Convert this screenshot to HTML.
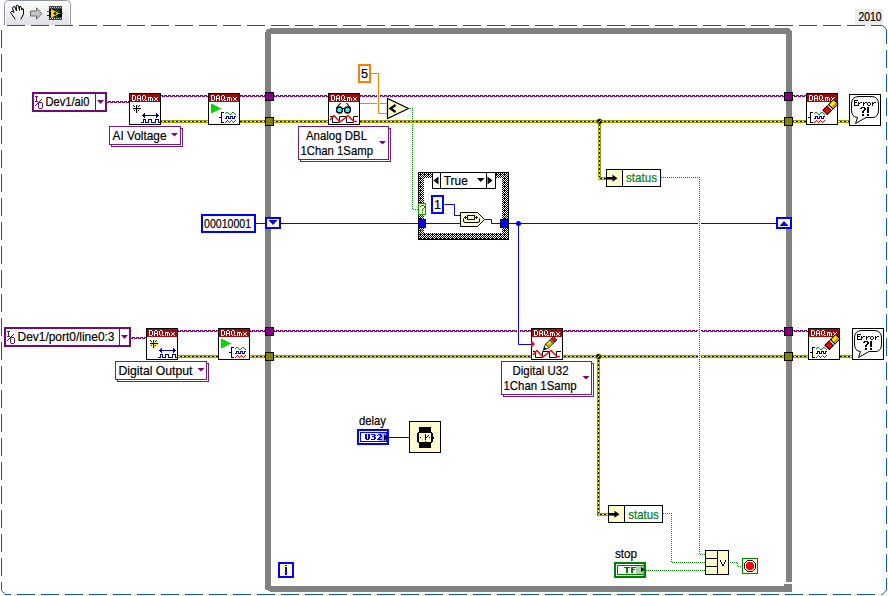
<!DOCTYPE html>
<html><head><meta charset="utf-8"><style>html,body{margin:0;padding:0;background:#fff;overflow:hidden}svg{display:block}</style></head>
<body><svg width="888" height="596" viewBox="0 0 888 596">
<rect width="888" height="596" fill="#fff"/>
<defs><linearGradient id="tabg" x1="0" y1="0" x2="0" y2="1"><stop offset="0" stop-color="#ffffff"/><stop offset="1" stop-color="#dfe0e5"/></linearGradient><pattern id="taskA" x="0" y="0" width="4" height="1" patternUnits="userSpaceOnUse"><rect x="0" y="0" width="3" height="1" fill="#800080"/></pattern><pattern id="taskB" x="0" y="0" width="4" height="1" patternUnits="userSpaceOnUse"><rect x="0" y="0" width="1" height="1" fill="#800080"/><rect x="2" y="0" width="2" height="1" fill="#800080"/></pattern><pattern id="errh" x="0" y="0" width="4" height="1" patternUnits="userSpaceOnUse"><rect x="0" y="0" width="2" height="1" fill="#000"/><rect x="2" y="0" width="2" height="1" fill="#ffff00"/></pattern><pattern id="errv" x="0" y="0" width="1" height="4" patternUnits="userSpaceOnUse"><rect x="0" y="0" width="1" height="2" fill="#000"/><rect x="0" y="2" width="1" height="2" fill="#ffff00"/></pattern><pattern id="chk" x="419" y="173" width="4" height="4" patternUnits="userSpaceOnUse"><rect width="4" height="4" fill="#fff"/><path d="M1,0h1v1h-1zM0,1h1v1h-1zM2,1h1v1h-1zM1,2h1v1h-1zM3,0h1v1h-1zM3,2h1v1h-1zM0,3h1v1h-1zM2,3h1v1h-1zM1,1h1v1h-1z" fill="#000"/></pattern></defs>
<path d="M4.5,25 L4.5,4.5 Q4.5,0.5 8.5,0.5 L66.5,0.5 Q70.5,0.5 70.5,4.5 L70.5,25" fill="url(#tabg)" stroke="#8e94a6" stroke-width="1"/>
<path d="M5.5,25 L5.5,5 Q5.5,1.5 9,1.5 L66,1.5 Q69.5,1.5 69.5,5 L69.5,25" fill="none" stroke="#ffffff" stroke-width="1" opacity="0.8"/>
<path d="M15,19 L10.5,12.5 L12,11 L14,12.5 L12.5,8 L13.5,6.5 L15,7 L16.5,11 L16.2,5.5 L17.5,5 L18.5,6 L19.5,10.5 L19.5,6.5 L20.8,6.5 L22,10 L22.5,8.5 L23.5,9 L23.5,14 L21,19" fill="none" stroke="#000" stroke-width="1" stroke-linejoin="round" stroke-linecap="round"/>
<path d="M30.5,11 L36.5,11 L36.5,7.8 L41.8,13.5 L36.5,19.2 L36.5,16 L30.5,16 Z" fill="#c4c4c4" stroke="#6a6a6a" stroke-width="1"/>
<rect x="49" y="6" width="13" height="14" fill="#404040"/>
<rect x="49" y="9" width="13" height="8" fill="#000"/>
<path d="M50,7h1v1h-1zM52,7h1v1h-1zM54,7h1v1h-1zM56,7h1v1h-1zM58,7h1v1h-1zM60,7h1v1h-1zM50,18h1v1h-1zM52,18h1v1h-1zM54,18h1v1h-1zM56,18h1v1h-1zM58,18h1v1h-1zM60,18h1v1h-1z" fill="#c8c8c8"/>
<path d="M55,9 q2,1 1,3 M57,9 q3,2 2,5 M56,16 l2,1" fill="none" stroke="#00a000" stroke-width="0.8"/>
<path d="M51,9 L59.5,13.5 L51,18 Z" fill="#f8d800"/>
<path d="M53.5,13.5 h3 M55,12 v3" stroke="#000" stroke-width="1.2"/>
<line x1="47" y1="11.5" x2="51" y2="11.5" stroke="#ff0000" stroke-width="1"/>
<line x1="47" y1="15.5" x2="51" y2="15.5" stroke="#0000ff" stroke-width="1"/>
<line x1="59" y1="13.5" x2="63" y2="13.5" stroke="#ff0000" stroke-width="1"/>
<rect x="855" y="9" width="28" height="16" fill="#ebebeb" />
<text x="858.5" y="21" font-size="12" fill="#000" stroke="#000" stroke-width="0.2" font-family="Liberation Sans, sans-serif" textLength="23" lengthAdjust="spacingAndGlyphs" >2010</text>
<line x1="7" y1="25.5" x2="871" y2="25.5" stroke="#0a5ea8" stroke-width="1" stroke-dasharray="18 6"/>
<path d="M871,25.5 L882.5,25.5 L886.5,29.5 L886.5,44" fill="none" stroke="#0a5ea8" stroke-width="1"/>
<line x1="886.5" y1="50" x2="886.5" y2="578" stroke="#0a5ea8" stroke-width="1" stroke-dasharray="18 6"/>
<line x1="1.5" y1="30" x2="1.5" y2="582" stroke="#0a5ea8" stroke-width="1" stroke-dasharray="18 6"/>
<path d="M1.5,582 L1.5,590.5 L5,594.5 L11,594.5" fill="none" stroke="#0a5ea8" stroke-width="1"/>
<line x1="17" y1="594.5" x2="875" y2="594.5" stroke="#0a5ea8" stroke-width="1" stroke-dasharray="18 6"/>
<path d="M886.5,578 L886.5,590 L882.5,594.5 L881,594.5" fill="none" stroke="#0a5ea8" stroke-width="1"/>
<path d="M270,28 L789,28 L789,29 L790,29 L790,30 L791,30 L791,31 L792,31 L792,582 L786,582 L786,34 L271,34 L271,586 L786,586 L784,586 L784,584 L792,584 L792,592 L270,592 L270,591 L268,591 L268,590 L266,590 L266,589 L265,589 L265,32 L266,32 L266,30 L267,30 L267,29 L270,29 Z" fill="#808080"/>
<rect x="33.0" y="93.0" width="73" height="18" fill="#fff" stroke="#730a7a" stroke-width="2" />
<rect x="95" y="94" width="1" height="16" fill="#730a7a"/>
<path d="M35,96h3v1h-3zM36,97h1v1h-1zM36,98h1v1h-1zM36,99h1v1h-1zM41,99h1v1h-1zM36,100h1v1h-1zM40,100h1v1h-1zM35,101h3v1h-3zM39,101h1v1h-1zM38,102h4v1h-4zM37,103h2v1h-2zM42,103h1v1h-1zM36,104h1v1h-1zM38,104h1v1h-1zM42,104h1v1h-1zM35,105h1v1h-1zM38,105h1v1h-1zM42,105h1v1h-1zM38,106h1v1h-1zM42,106h1v1h-1zM38,107h1v1h-1zM42,107h1v1h-1zM39,108h3v1h-3z" fill="#730a7a"/>
<text x="45.5" y="106" font-size="13" fill="#000" stroke="#000" stroke-width="0.2" font-family="Liberation Sans, sans-serif" textLength="44" lengthAdjust="spacingAndGlyphs" >Dev1/ai0</text>
<path d="M97,100 h7 l-3.5,4 Z" fill="#730a7a"/>
<rect x="107" y="101" width="22" height="1" fill="url(#taskA)"/>
<rect x="107" y="102" width="22" height="1" fill="url(#taskB)"/>
<rect x="111.5" y="128.5" width="71" height="18" fill="#fff" stroke="#7a1a82" stroke-width="1" />
<rect x="109.5" y="126.5" width="71" height="18" fill="#fff" stroke="#7a1a82" stroke-width="1" />
<text x="112.5" y="139.6" font-size="13" fill="#000" stroke="#000" stroke-width="0.2" font-family="Liberation Sans, sans-serif" textLength="54" lengthAdjust="spacingAndGlyphs" >AI Voltage</text>
<path d="M171,133 h7 l-3.5,3.5 Z" fill="#800080"/>
<rect x="129.5" y="93.5" width="31" height="31" fill="#fff" stroke="#000" stroke-width="1" />
<rect x="130" y="94" width="30" height="8" fill="#a00a0a" />
<path d="M132,95h3v1h-3zM132,96h1v1h-1zM135,96h1v1h-1zM132,97h1v1h-1zM135,97h1v1h-1zM132,98h1v1h-1zM135,98h1v1h-1zM132,99h1v1h-1zM135,99h1v1h-1zM132,100h3v1h-3z" fill="#fff"/>
<path d="M138,95h2v1h-2zM137,96h1v1h-1zM140,96h1v1h-1zM137,97h1v1h-1zM140,97h1v1h-1zM137,98h4v1h-4zM137,99h1v1h-1zM140,99h1v1h-1zM137,100h1v1h-1zM140,100h1v1h-1z" fill="#fff"/>
<path d="M143,95h2v1h-2zM142,96h1v1h-1zM145,96h1v1h-1zM142,97h1v1h-1zM145,97h1v1h-1zM142,98h1v1h-1zM145,98h1v1h-1zM142,99h1v1h-1zM144,99h1v1h-1zM143,100h1v1h-1zM145,100h2v1h-2z" fill="#fff"/>
<path d="M148,97h4v1h-4zM148,98h1v1h-1zM150,98h1v1h-1zM152,98h1v1h-1zM148,99h1v1h-1zM150,99h1v1h-1zM152,99h1v1h-1zM148,100h1v1h-1zM150,100h1v1h-1zM152,100h1v1h-1z" fill="#fff"/>
<path d="M154,97h1v1h-1zM157,97h1v1h-1zM155,98h2v1h-2zM155,99h2v1h-2zM154,100h1v1h-1zM157,100h1v1h-1z" fill="#fff"/>
<path d="M133,105h1v1h-1zM136,105h1v1h-1zM139,105h1v1h-1zM134,106h1v1h-1zM136,106h1v1h-1zM138,106h1v1h-1zM136,107h1v1h-1zM133,108h8v1h-8zM136,109h1v1h-1zM134,110h1v1h-1zM136,110h1v1h-1zM138,110h1v1h-1zM136,111h1v1h-1zM136,112h1v1h-1z" fill="#000"/>
<path d="M137,105h1v1h-1zM137,106h1v1h-1zM137,107h1v1h-1zM133,109h3v1h-3zM137,109h4v1h-4zM137,110h1v1h-1zM137,111h1v1h-1zM137,112h1v1h-1z" fill="#f0f000"/>
<path d="M144,113h1v1h-1zM156,113h1v1h-1zM143,114h2v1h-2zM156,114h2v1h-2zM142,115h17v1h-17zM143,116h2v1h-2zM156,116h2v1h-2zM144,117h1v1h-1zM156,117h1v1h-1z" fill="#0000b0"/>
<path d="M143,119h3v1h-3zM148,119h4v1h-4zM155,119h4v1h-4zM143,120h1v1h-1zM145,120h1v1h-1zM148,120h1v1h-1zM151,120h1v1h-1zM155,120h1v1h-1zM158,120h1v1h-1zM143,121h1v1h-1zM145,121h1v1h-1zM148,121h1v1h-1zM151,121h1v1h-1zM155,121h1v1h-1zM158,121h1v1h-1zM141,122h3v1h-3zM145,122h4v1h-4zM151,122h5v1h-5zM158,122h2v1h-2z" fill="#0000b0"/>
<rect x="161" y="95" width="47" height="1" fill="url(#taskA)"/>
<rect x="161" y="96" width="47" height="1" fill="url(#taskB)"/>
<rect x="161" y="120" width="47" height="3" fill="#a09c00"/>
<rect x="161" y="121" width="47" height="1" fill="url(#errh)"/>
<rect x="208.5" y="93.5" width="31" height="31" fill="#fff" stroke="#000" stroke-width="1" />
<rect x="209" y="94" width="30" height="8" fill="#a00a0a" />
<path d="M211,95h3v1h-3zM211,96h1v1h-1zM214,96h1v1h-1zM211,97h1v1h-1zM214,97h1v1h-1zM211,98h1v1h-1zM214,98h1v1h-1zM211,99h1v1h-1zM214,99h1v1h-1zM211,100h3v1h-3z" fill="#fff"/>
<path d="M217,95h2v1h-2zM216,96h1v1h-1zM219,96h1v1h-1zM216,97h1v1h-1zM219,97h1v1h-1zM216,98h4v1h-4zM216,99h1v1h-1zM219,99h1v1h-1zM216,100h1v1h-1zM219,100h1v1h-1z" fill="#fff"/>
<path d="M222,95h2v1h-2zM221,96h1v1h-1zM224,96h1v1h-1zM221,97h1v1h-1zM224,97h1v1h-1zM221,98h1v1h-1zM224,98h1v1h-1zM221,99h1v1h-1zM223,99h1v1h-1zM222,100h1v1h-1zM224,100h2v1h-2z" fill="#fff"/>
<path d="M227,97h4v1h-4zM227,98h1v1h-1zM229,98h1v1h-1zM231,98h1v1h-1zM227,99h1v1h-1zM229,99h1v1h-1zM231,99h1v1h-1zM227,100h1v1h-1zM229,100h1v1h-1zM231,100h1v1h-1z" fill="#fff"/>
<path d="M233,97h1v1h-1zM236,97h1v1h-1zM234,98h2v1h-2zM234,99h2v1h-2zM233,100h1v1h-1zM236,100h1v1h-1z" fill="#fff"/>
<path d="M211,104h2v1h-2zM211,105h4v1h-4zM211,106h6v1h-6zM211,107h8v1h-8zM211,108h10v1h-10zM211,109h8v1h-8zM211,110h6v1h-6zM211,111h4v1h-4zM211,112h2v1h-2z" fill="#00d800"/>
<path d="M221,112h3v1h-3zM221,113h1v1h-1zM221,114h1v1h-1zM221,115h1v1h-1zM221,116h1v1h-1zM219,117h3v1h-3zM221,118h1v1h-1zM221,119h1v1h-1zM221,120h1v1h-1zM221,121h1v1h-1zM221,122h3v1h-3z" fill="#000"/>
<path d="M226,112h2v1h-2zM232,112h2v1h-2zM225,113h1v1h-1zM228,113h1v1h-1zM231,113h1v1h-1zM234,113h1v1h-1zM229,114h2v1h-2zM235,114h1v1h-1z" fill="#00a000"/>
<path d="M226,116h3v1h-3zM230,116h3v1h-3zM234,116h2v1h-2zM226,117h1v1h-1zM228,117h1v1h-1zM230,117h1v1h-1zM232,117h1v1h-1zM234,117h1v1h-1zM225,118h2v1h-2zM228,118h3v1h-3zM232,118h3v1h-3z" fill="#0000b0"/>
<path d="M227,120h1v1h-1zM231,120h1v1h-1zM235,120h1v1h-1zM226,121h1v1h-1zM228,121h1v1h-1zM230,121h1v1h-1zM232,121h1v1h-1zM234,121h1v1h-1zM225,122h1v1h-1zM229,122h1v1h-1zM233,122h1v1h-1z" fill="#ff0000"/>
<rect x="240" y="95" width="25" height="1" fill="url(#taskA)"/>
<rect x="240" y="96" width="25" height="1" fill="url(#taskB)"/>
<rect x="240" y="120" width="25" height="3" fill="#a09c00"/>
<rect x="240" y="121" width="25" height="1" fill="url(#errh)"/>
<rect x="265.5" y="92.5" width="8" height="8" fill="#800080" stroke="#000" stroke-width="1" />
<rect x="265.5" y="117.5" width="8" height="8" fill="#858008" stroke="#000" stroke-width="1" />
<rect x="274" y="95" width="54" height="1" fill="url(#taskA)"/>
<rect x="274" y="96" width="54" height="1" fill="url(#taskB)"/>
<rect x="274" y="120" width="54" height="3" fill="#a09c00"/>
<rect x="274" y="121" width="54" height="1" fill="url(#errh)"/>
<rect x="328.5" y="93.5" width="31" height="31" fill="#fff" stroke="#000" stroke-width="1" />
<rect x="329" y="94" width="30" height="8" fill="#a00a0a" />
<path d="M331,95h3v1h-3zM331,96h1v1h-1zM334,96h1v1h-1zM331,97h1v1h-1zM334,97h1v1h-1zM331,98h1v1h-1zM334,98h1v1h-1zM331,99h1v1h-1zM334,99h1v1h-1zM331,100h3v1h-3z" fill="#fff"/>
<path d="M337,95h2v1h-2zM336,96h1v1h-1zM339,96h1v1h-1zM336,97h1v1h-1zM339,97h1v1h-1zM336,98h4v1h-4zM336,99h1v1h-1zM339,99h1v1h-1zM336,100h1v1h-1zM339,100h1v1h-1z" fill="#fff"/>
<path d="M342,95h2v1h-2zM341,96h1v1h-1zM344,96h1v1h-1zM341,97h1v1h-1zM344,97h1v1h-1zM341,98h1v1h-1zM344,98h1v1h-1zM341,99h1v1h-1zM343,99h1v1h-1zM342,100h1v1h-1zM344,100h2v1h-2z" fill="#fff"/>
<path d="M347,97h4v1h-4zM347,98h1v1h-1zM349,98h1v1h-1zM351,98h1v1h-1zM347,99h1v1h-1zM349,99h1v1h-1zM351,99h1v1h-1zM347,100h1v1h-1zM349,100h1v1h-1zM351,100h1v1h-1z" fill="#fff"/>
<path d="M353,97h1v1h-1zM356,97h1v1h-1zM354,98h2v1h-2zM354,99h2v1h-2zM353,100h1v1h-1zM356,100h1v1h-1z" fill="#fff"/>
<circle cx="339.5" cy="110" r="3" fill="#40e8f0" stroke="#000" stroke-width="1.3"/>
<circle cx="347.5" cy="110" r="3" fill="#40e8f0" stroke="#000" stroke-width="1.3"/>
<path d="M342,108.5 h3 M336.5,108 l4,-5 M350.5,108 l-4,-5" fill="none" stroke="#000" stroke-width="1.2"/>
<path d="M330,116.5 H332.5 V122.5 H339.5 V116.5 H346.5 V122.5 H353.5 V116.5 H358" fill="none" stroke="#000" stroke-width="1"/>
<path d="M330,120 l4,-4.5 l6,6.5 l8,-6.5 l6,6 l3,0" fill="none" stroke="#ff0000" stroke-width="1.5"/>
<rect x="300.5" y="128.5" width="90" height="33" fill="#fff" stroke="#7a1a82" stroke-width="1" />
<rect x="298.5" y="126.5" width="90" height="33" fill="#fff" stroke="#7a1a82" stroke-width="1" />
<text x="306" y="139.8" font-size="13" fill="#000" stroke="#000" stroke-width="0.2" font-family="Liberation Sans, sans-serif" textLength="61" lengthAdjust="spacingAndGlyphs" >Analog DBL</text>
<text x="300.5" y="154.7" font-size="13" fill="#000" stroke="#000" stroke-width="0.2" font-family="Liberation Sans, sans-serif" textLength="72.5" lengthAdjust="spacingAndGlyphs" >1Chan 1Samp</text>
<path d="M379,141 h7 l-3.5,3.5 Z" fill="#800080"/>
<rect x="359.0" y="65.0" width="11" height="17" fill="#fff" stroke="#ff7f00" stroke-width="2" />
<text x="361" y="78" font-size="12" fill="#000" stroke="#000" stroke-width="0.2" font-family="Liberation Sans, sans-serif" textLength="7" lengthAdjust="spacingAndGlyphs" >5</text>
<path d="M370.5,73.5 L378.5,73.5 L378.5,113.5 L387.5,113.5" fill="none" stroke="#ff7f00" stroke-width="1"/>
<rect x="360" y="103" width="17" height="1" fill="#ff7f00"/>
<rect x="380" y="103" width="7" height="1" fill="#ff7f00"/>
<path d="M387.5,98.5 L387.5,118.5 L408.5,108.5 Z" fill="#fafad2" stroke="#000" stroke-width="1.2"/>
<path d="M395.5,105 L390.5,108.5 L395.5,112" fill="none" stroke="#000" stroke-width="2.2"/>
<path d="M410,108h1v1h-1zM412,108h1v1h-1zM412,108h1v1h-1zM412,110h1v1h-1zM412,112h1v1h-1zM412,114h1v1h-1zM412,116h1v1h-1zM412,118h1v1h-1zM412,120h1v1h-1zM412,122h1v1h-1zM412,124h1v1h-1zM412,126h1v1h-1zM412,128h1v1h-1zM412,130h1v1h-1zM412,132h1v1h-1zM412,134h1v1h-1zM412,136h1v1h-1zM412,138h1v1h-1zM412,140h1v1h-1zM412,142h1v1h-1zM412,144h1v1h-1zM412,146h1v1h-1zM412,148h1v1h-1zM412,150h1v1h-1zM412,152h1v1h-1zM412,154h1v1h-1zM412,156h1v1h-1zM412,158h1v1h-1zM412,160h1v1h-1zM412,162h1v1h-1zM412,164h1v1h-1zM412,166h1v1h-1zM412,168h1v1h-1zM412,170h1v1h-1zM412,172h1v1h-1zM412,174h1v1h-1zM412,176h1v1h-1zM412,178h1v1h-1zM412,180h1v1h-1zM412,182h1v1h-1zM412,184h1v1h-1zM412,186h1v1h-1zM412,188h1v1h-1zM412,190h1v1h-1zM412,192h1v1h-1zM412,194h1v1h-1zM412,196h1v1h-1zM412,198h1v1h-1zM412,200h1v1h-1zM412,202h1v1h-1zM412,204h1v1h-1zM412,206h1v1h-1zM412,208h1v1h-1zM413,209h1v1h-1zM415,209h1v1h-1zM417,209h1v1h-1z" fill="#009000"/>
<rect x="360" y="95" width="17" height="1" fill="url(#taskA)"/>
<rect x="360" y="96" width="17" height="1" fill="url(#taskB)"/>
<rect x="380" y="95" width="404" height="1" fill="url(#taskA)"/>
<rect x="380" y="96" width="404" height="1" fill="url(#taskB)"/>
<rect x="360" y="120" width="424" height="3" fill="#a09c00"/>
<rect x="360" y="121" width="424" height="1" fill="url(#errh)"/>
<rect x="784.5" y="92.5" width="8" height="8" fill="#800080" stroke="#000" stroke-width="1" />
<rect x="784.5" y="117.5" width="8" height="8" fill="#858008" stroke="#000" stroke-width="1" />
<rect x="793" y="95" width="13" height="1" fill="url(#taskA)"/>
<rect x="793" y="96" width="13" height="1" fill="url(#taskB)"/>
<rect x="793" y="120" width="13" height="3" fill="#a09c00"/>
<rect x="793" y="121" width="13" height="1" fill="url(#errh)"/>
<rect x="806.5" y="93.5" width="31" height="31" fill="#fff" stroke="#000" stroke-width="1" />
<rect x="807" y="94" width="30" height="8" fill="#a00a0a" />
<path d="M809,95h3v1h-3zM809,96h1v1h-1zM812,96h1v1h-1zM809,97h1v1h-1zM812,97h1v1h-1zM809,98h1v1h-1zM812,98h1v1h-1zM809,99h1v1h-1zM812,99h1v1h-1zM809,100h3v1h-3z" fill="#fff"/>
<path d="M815,95h2v1h-2zM814,96h1v1h-1zM817,96h1v1h-1zM814,97h1v1h-1zM817,97h1v1h-1zM814,98h4v1h-4zM814,99h1v1h-1zM817,99h1v1h-1zM814,100h1v1h-1zM817,100h1v1h-1z" fill="#fff"/>
<path d="M820,95h2v1h-2zM819,96h1v1h-1zM822,96h1v1h-1zM819,97h1v1h-1zM822,97h1v1h-1zM819,98h1v1h-1zM822,98h1v1h-1zM819,99h1v1h-1zM821,99h1v1h-1zM820,100h1v1h-1zM822,100h2v1h-2z" fill="#fff"/>
<path d="M825,97h4v1h-4zM825,98h1v1h-1zM827,98h1v1h-1zM829,98h1v1h-1zM825,99h1v1h-1zM827,99h1v1h-1zM829,99h1v1h-1zM825,100h1v1h-1zM827,100h1v1h-1zM829,100h1v1h-1z" fill="#fff"/>
<path d="M831,97h1v1h-1zM834,97h1v1h-1zM832,98h2v1h-2zM832,99h2v1h-2zM831,100h1v1h-1zM834,100h1v1h-1z" fill="#fff"/>
<path d="M810,112h3v1h-3zM810,113h1v1h-1zM810,114h1v1h-1zM810,115h1v1h-1zM810,116h1v1h-1zM808,117h3v1h-3zM810,118h1v1h-1zM810,119h1v1h-1zM810,120h1v1h-1zM810,121h1v1h-1zM810,122h3v1h-3z" fill="#000"/>
<path d="M815,112h2v1h-2zM821,112h2v1h-2zM814,113h1v1h-1zM817,113h1v1h-1zM820,113h1v1h-1zM823,113h1v1h-1zM818,114h2v1h-2zM824,114h1v1h-1z" fill="#00a000"/>
<path d="M815,116h3v1h-3zM819,116h3v1h-3zM823,116h2v1h-2zM815,117h1v1h-1zM817,117h1v1h-1zM819,117h1v1h-1zM821,117h1v1h-1zM823,117h1v1h-1zM814,118h2v1h-2zM817,118h3v1h-3zM821,118h3v1h-3z" fill="#0000b0"/>
<path d="M816,120h1v1h-1zM820,120h1v1h-1zM824,120h1v1h-1zM815,121h1v1h-1zM817,121h1v1h-1zM819,121h1v1h-1zM821,121h1v1h-1zM823,121h1v1h-1zM814,122h1v1h-1zM818,122h1v1h-1zM822,122h1v1h-1z" fill="#ff0000"/>
<g transform="translate(830,107.5) rotate(-45) scale(1.15)"><rect x="-6" y="-2.7" width="5" height="5.4" fill="#ff0000" stroke="#000" stroke-width="0.9"/><rect x="-1" y="-2.7" width="2" height="5.4" fill="#d0d0d0" stroke="#000" stroke-width="0.6"/><rect x="1" y="-2.7" width="6" height="5.4" fill="#f8f000" stroke="#000" stroke-width="0.9"/><rect x="1.5" y="0.5" width="5" height="1.8" fill="#d09000"/></g>
<rect x="838" y="120" width="11" height="3" fill="#a09c00"/>
<rect x="838" y="121" width="11" height="1" fill="url(#errh)"/>
<rect x="849.5" y="94.5" width="31" height="31" fill="#fff" stroke="#000" stroke-width="1" />
<path d="M857.5,117.5 L855.5,123.5 L866,117.5 L873,117.5 Q878.5,117 878.5,110 L878.5,104 Q878.5,96.5 871,96.5 L859,96.5 Q851.5,96.5 851.5,104 L851.5,110 Q851.5,117 857.5,117.5 Z" fill="#fff" stroke="#000" stroke-width="1"/>
<path d="M854,100h4v1h-4zM854,101h1v1h-1zM854,102h3v1h-3zM854,103h1v1h-1zM854,104h1v1h-1zM854,105h4v1h-4z" fill="#000"/>
<path d="M858,102h1v1h-1zM860,102h2v1h-2zM858,103h2v1h-2zM858,104h1v1h-1zM858,105h1v1h-1z" fill="#000"/>
<path d="M863,102h1v1h-1zM865,102h2v1h-2zM863,103h2v1h-2zM863,104h1v1h-1zM863,105h1v1h-1z" fill="#000"/>
<path d="M868,102h2v1h-2zM867,103h1v1h-1zM870,103h1v1h-1zM867,104h1v1h-1zM870,104h1v1h-1zM868,105h2v1h-2z" fill="#000"/>
<path d="M872,102h1v1h-1zM874,102h2v1h-2zM872,103h2v1h-2zM872,104h1v1h-1zM872,105h1v1h-1z" fill="#000"/>
<path d="M861,107h4v1h-4zM860,108h2v1h-2zM864,108h2v1h-2zM864,109h2v1h-2zM863,110h2v1h-2zM862,111h2v1h-2zM862,112h2v1h-2zM862,114h2v1h-2zM862,115h2v1h-2z" fill="#000"/>
<path d="M867,107h2v1h-2zM867,108h2v1h-2zM867,109h2v1h-2zM867,110h2v1h-2zM867,111h2v1h-2zM867,112h2v1h-2zM867,114h2v1h-2zM867,115h2v1h-2z" fill="#000"/>
<rect x="598" y="121" width="3" height="57" fill="#a09c00"/>
<rect x="599" y="121" width="1" height="57" fill="url(#errv)"/>
<rect x="598" y="177" width="8" height="3" fill="#a09c00"/>
<rect x="598" y="178" width="8" height="1" fill="url(#errh)"/>
<circle cx="599.5" cy="121.5" r="2.8" fill="#000" stroke="#d8d800" stroke-width="0.6"/><path d="M598.3,122.7 L600.7,120.3" stroke="#ffff00" stroke-width="1"/>
<rect x="606.5" y="169.5" width="54" height="17" fill="#fff" stroke="#000" stroke-width="1" />
<rect x="607" y="170" width="16" height="16" fill="#fffacd" />
<rect x="622" y="170" width="1" height="16" fill="#000"/>
<path d="M606,178.3 h8" stroke="#000" stroke-width="2.6"/><path d="M612.5,174.8 L617.5,178.3 L612.5,181.8 Z" fill="#000"/>
<text x="626" y="182" font-size="13" fill="#008020" stroke="#008020" stroke-width="0.2" font-family="Liberation Sans, sans-serif" textLength="31" lengthAdjust="spacingAndGlyphs" >status</text>
<rect x="202.0" y="215.0" width="53" height="17" fill="#fff" stroke="#0000ff" stroke-width="2" />
<text x="204" y="228" font-size="12" fill="#000" stroke="#000" stroke-width="0.2" font-family="Liberation Sans, sans-serif" textLength="47" lengthAdjust="spacingAndGlyphs" >00010001</text>
<rect x="256" y="223" width="9" height="1" fill="#0000ff"/>
<rect x="266.0" y="218.0" width="14" height="10" fill="#fffacd" stroke="#0000ff" stroke-width="2" />
<path d="M268.5,220 h9 l-4.5,5 Z" fill="#0000ff"/>
<rect x="281" y="223" width="137" height="1" fill="#0000ff"/>
<rect x="418" y="172" width="91" height="68" fill="url(#chk)" />
<rect x="424" y="178" width="78" height="55" fill="#fff" />
<rect x="418.5" y="172.5" width="90" height="67" fill="none" stroke="#000" stroke-width="1" />
<rect x="432.5" y="172.5" width="63" height="16" fill="#fff" stroke="#000" stroke-width="1" />
<rect x="440" y="172" width="1" height="17" fill="#000"/>
<rect x="486" y="172" width="1" height="17" fill="#000"/>
<path d="M438.5,176.5 v8 l-5,-4 Z" fill="#000"/><path d="M487.5,176.5 v8 l5,-4 Z" fill="#000"/>
<text x="443.8" y="185" font-size="13" fill="#000" stroke="#000" stroke-width="0.2" font-family="Liberation Sans, sans-serif" textLength="24" lengthAdjust="spacingAndGlyphs" >True</text>
<path d="M477,178 h7.5 l-3.75,4 Z" fill="#000"/>
<rect x="418.5" y="203.5" width="7" height="11" fill="#fffacd" stroke="#00a000" stroke-width="1" />
<path d="M421,205h3v1h-3zM420,206h1v1h-1zM424,206h1v1h-1zM424,207h1v1h-1zM423,208h1v1h-1zM422,209h1v1h-1zM422,210h1v1h-1zM422,212h1v1h-1z" fill="#008000"/>
<rect x="418.5" y="219.5" width="7" height="8" fill="#0000ff" stroke="#000" stroke-width="1" />
<rect x="500.5" y="219.5" width="8" height="8" fill="#0000ff" stroke="#000" stroke-width="1" />
<rect x="426" y="223" width="34" height="1" fill="#0000ff"/>
<rect x="432.0" y="196.0" width="11" height="17" fill="#fff" stroke="#0000ff" stroke-width="2" />
<text x="434" y="209" font-size="12" fill="#000" stroke="#000" stroke-width="0.2" font-family="Liberation Sans, sans-serif" textLength="7" lengthAdjust="spacingAndGlyphs" >1</text>
<path d="M444.5,204.5 L454.5,204.5 L454.5,215.5 L460.5,215.5" fill="none" stroke="#0000ff" stroke-width="1"/>
<path d="M460.5,212.5 L477.5,212.5 L484.5,219.5 L477.5,226.5 L460.5,226.5 Z" fill="#fafad2" stroke="#000" stroke-width="1"/>
<path d="M463.5,218.5 V221 Q463.5,222.5 465,222.5 H478 Q479.5,222.5 479.5,221 V218.5" fill="none" stroke="#000" stroke-width="1"/>
<rect x="467.5" y="215.5" width="7" height="4" fill="#fafad2" stroke="#000" stroke-width="1"/>
<path d="M464,217.5 H467.5 M474.5,217.5 H478 M465.5,216 V219 M476.5,216 V219" fill="none" stroke="#000" stroke-width="1"/>
<path d="M484.5,219.5 L491.5,219.5 L491.5,223.5 L500.5,223.5" fill="none" stroke="#0000ff" stroke-width="1"/>
<rect x="509" y="223" width="267" height="1" fill="#0000ff"/>
<circle cx="518.5" cy="223.5" r="2.5" fill="#0000ff"/>
<rect x="777.0" y="218.0" width="14" height="10" fill="#fffacd" stroke="#0000ff" stroke-width="2" />
<path d="M779.5,226 h9 l-4.5,-5 Z" fill="#0000ff"/>
<rect x="5.0" y="328.0" width="125" height="18" fill="#fff" stroke="#730a7a" stroke-width="2" />
<rect x="119" y="329" width="1" height="16" fill="#730a7a"/>
<path d="M7,331h3v1h-3zM8,332h1v1h-1zM8,333h1v1h-1zM8,334h1v1h-1zM13,334h1v1h-1zM8,335h1v1h-1zM12,335h1v1h-1zM7,336h3v1h-3zM11,336h1v1h-1zM10,337h4v1h-4zM9,338h2v1h-2zM14,338h1v1h-1zM8,339h1v1h-1zM10,339h1v1h-1zM14,339h1v1h-1zM7,340h1v1h-1zM10,340h1v1h-1zM14,340h1v1h-1zM10,341h1v1h-1zM14,341h1v1h-1zM10,342h1v1h-1zM14,342h1v1h-1zM11,343h3v1h-3z" fill="#730a7a"/>
<text x="17.5" y="341" font-size="13" fill="#000" stroke="#000" stroke-width="0.2" font-family="Liberation Sans, sans-serif" textLength="97" lengthAdjust="spacingAndGlyphs" >Dev1/port0/line0:3</text>
<path d="M121,335 h7 l-3.5,4 Z" fill="#730a7a"/>
<rect x="131" y="337" width="15" height="1" fill="url(#taskA)"/>
<rect x="131" y="338" width="15" height="1" fill="url(#taskB)"/>
<rect x="117.5" y="363.5" width="91" height="18" fill="#fff" stroke="#7a1a82" stroke-width="1" />
<rect x="115.5" y="361.5" width="91" height="18" fill="#fff" stroke="#7a1a82" stroke-width="1" />
<text x="118.5" y="374.8" font-size="13" fill="#000" stroke="#000" stroke-width="0.2" font-family="Liberation Sans, sans-serif" textLength="74" lengthAdjust="spacingAndGlyphs" >Digital Output</text>
<path d="M197.5,368 h7 l-3.5,3.5 Z" fill="#800080"/>
<rect x="146.5" y="328.5" width="31" height="31" fill="#fff" stroke="#000" stroke-width="1" />
<rect x="147" y="329" width="30" height="8" fill="#a00a0a" />
<path d="M149,330h3v1h-3zM149,331h1v1h-1zM152,331h1v1h-1zM149,332h1v1h-1zM152,332h1v1h-1zM149,333h1v1h-1zM152,333h1v1h-1zM149,334h1v1h-1zM152,334h1v1h-1zM149,335h3v1h-3z" fill="#fff"/>
<path d="M155,330h2v1h-2zM154,331h1v1h-1zM157,331h1v1h-1zM154,332h1v1h-1zM157,332h1v1h-1zM154,333h4v1h-4zM154,334h1v1h-1zM157,334h1v1h-1zM154,335h1v1h-1zM157,335h1v1h-1z" fill="#fff"/>
<path d="M160,330h2v1h-2zM159,331h1v1h-1zM162,331h1v1h-1zM159,332h1v1h-1zM162,332h1v1h-1zM159,333h1v1h-1zM162,333h1v1h-1zM159,334h1v1h-1zM161,334h1v1h-1zM160,335h1v1h-1zM162,335h2v1h-2z" fill="#fff"/>
<path d="M165,332h4v1h-4zM165,333h1v1h-1zM167,333h1v1h-1zM169,333h1v1h-1zM165,334h1v1h-1zM167,334h1v1h-1zM169,334h1v1h-1zM165,335h1v1h-1zM167,335h1v1h-1zM169,335h1v1h-1z" fill="#fff"/>
<path d="M171,332h1v1h-1zM174,332h1v1h-1zM172,333h2v1h-2zM172,334h2v1h-2zM171,335h1v1h-1zM174,335h1v1h-1z" fill="#fff"/>
<path d="M150,340h1v1h-1zM153,340h1v1h-1zM156,340h1v1h-1zM151,341h1v1h-1zM153,341h1v1h-1zM155,341h1v1h-1zM153,342h1v1h-1zM150,343h8v1h-8zM153,344h1v1h-1zM151,345h1v1h-1zM153,345h1v1h-1zM155,345h1v1h-1zM153,346h1v1h-1zM153,347h1v1h-1z" fill="#000"/>
<path d="M154,340h1v1h-1zM154,341h1v1h-1zM154,342h1v1h-1zM150,344h3v1h-3zM154,344h4v1h-4zM154,345h1v1h-1zM154,346h1v1h-1zM154,347h1v1h-1z" fill="#f0f000"/>
<path d="M161,348h1v1h-1zM173,348h1v1h-1zM160,349h2v1h-2zM173,349h2v1h-2zM159,350h17v1h-17zM160,351h2v1h-2zM173,351h2v1h-2zM161,352h1v1h-1zM173,352h1v1h-1z" fill="#0000b0"/>
<path d="M160,354h3v1h-3zM165,354h4v1h-4zM172,354h4v1h-4zM160,355h1v1h-1zM162,355h1v1h-1zM165,355h1v1h-1zM168,355h1v1h-1zM172,355h1v1h-1zM175,355h1v1h-1zM160,356h1v1h-1zM162,356h1v1h-1zM165,356h1v1h-1zM168,356h1v1h-1zM172,356h1v1h-1zM175,356h1v1h-1zM158,357h3v1h-3zM162,357h4v1h-4zM168,357h5v1h-5zM175,357h2v1h-2z" fill="#0000b0"/>
<rect x="178" y="330" width="40" height="1" fill="url(#taskA)"/>
<rect x="178" y="331" width="40" height="1" fill="url(#taskB)"/>
<rect x="178" y="355" width="40" height="3" fill="#a09c00"/>
<rect x="178" y="356" width="40" height="1" fill="url(#errh)"/>
<rect x="218.5" y="328.5" width="31" height="31" fill="#fff" stroke="#000" stroke-width="1" />
<rect x="219" y="329" width="30" height="8" fill="#a00a0a" />
<path d="M221,330h3v1h-3zM221,331h1v1h-1zM224,331h1v1h-1zM221,332h1v1h-1zM224,332h1v1h-1zM221,333h1v1h-1zM224,333h1v1h-1zM221,334h1v1h-1zM224,334h1v1h-1zM221,335h3v1h-3z" fill="#fff"/>
<path d="M227,330h2v1h-2zM226,331h1v1h-1zM229,331h1v1h-1zM226,332h1v1h-1zM229,332h1v1h-1zM226,333h4v1h-4zM226,334h1v1h-1zM229,334h1v1h-1zM226,335h1v1h-1zM229,335h1v1h-1z" fill="#fff"/>
<path d="M232,330h2v1h-2zM231,331h1v1h-1zM234,331h1v1h-1zM231,332h1v1h-1zM234,332h1v1h-1zM231,333h1v1h-1zM234,333h1v1h-1zM231,334h1v1h-1zM233,334h1v1h-1zM232,335h1v1h-1zM234,335h2v1h-2z" fill="#fff"/>
<path d="M237,332h4v1h-4zM237,333h1v1h-1zM239,333h1v1h-1zM241,333h1v1h-1zM237,334h1v1h-1zM239,334h1v1h-1zM241,334h1v1h-1zM237,335h1v1h-1zM239,335h1v1h-1zM241,335h1v1h-1z" fill="#fff"/>
<path d="M243,332h1v1h-1zM246,332h1v1h-1zM244,333h2v1h-2zM244,334h2v1h-2zM243,335h1v1h-1zM246,335h1v1h-1z" fill="#fff"/>
<path d="M221,339h2v1h-2zM221,340h4v1h-4zM221,341h6v1h-6zM221,342h8v1h-8zM221,343h10v1h-10zM221,344h8v1h-8zM221,345h6v1h-6zM221,346h4v1h-4zM221,347h2v1h-2z" fill="#00d800"/>
<path d="M231,347h3v1h-3zM231,348h1v1h-1zM231,349h1v1h-1zM231,350h1v1h-1zM231,351h1v1h-1zM229,352h3v1h-3zM231,353h1v1h-1zM231,354h1v1h-1zM231,355h1v1h-1zM231,356h1v1h-1zM231,357h3v1h-3z" fill="#000"/>
<path d="M236,347h2v1h-2zM242,347h2v1h-2zM235,348h1v1h-1zM238,348h1v1h-1zM241,348h1v1h-1zM244,348h1v1h-1zM239,349h2v1h-2zM245,349h1v1h-1z" fill="#00a000"/>
<path d="M236,351h3v1h-3zM240,351h3v1h-3zM244,351h2v1h-2zM236,352h1v1h-1zM238,352h1v1h-1zM240,352h1v1h-1zM242,352h1v1h-1zM244,352h1v1h-1zM235,353h2v1h-2zM238,353h3v1h-3zM242,353h3v1h-3z" fill="#0000b0"/>
<path d="M237,355h1v1h-1zM241,355h1v1h-1zM245,355h1v1h-1zM236,356h1v1h-1zM238,356h1v1h-1zM240,356h1v1h-1zM242,356h1v1h-1zM244,356h1v1h-1zM235,357h1v1h-1zM239,357h1v1h-1zM243,357h1v1h-1z" fill="#ff0000"/>
<rect x="250" y="330" width="15" height="1" fill="url(#taskA)"/>
<rect x="250" y="331" width="15" height="1" fill="url(#taskB)"/>
<rect x="250" y="355" width="15" height="3" fill="#a09c00"/>
<rect x="250" y="356" width="15" height="1" fill="url(#errh)"/>
<rect x="265.5" y="327.5" width="8" height="8" fill="#800080" stroke="#000" stroke-width="1" />
<rect x="265.5" y="352.5" width="8" height="8" fill="#858008" stroke="#000" stroke-width="1" />
<rect x="274" y="330" width="257" height="1" fill="url(#taskA)"/>
<rect x="274" y="331" width="257" height="1" fill="url(#taskB)"/>
<rect x="274" y="355" width="257" height="3" fill="#a09c00"/>
<rect x="274" y="356" width="257" height="1" fill="url(#errh)"/>
<rect x="531.5" y="328.5" width="31" height="31" fill="#fff" stroke="#000" stroke-width="1" />
<rect x="532" y="329" width="30" height="8" fill="#a00a0a" />
<path d="M534,330h3v1h-3zM534,331h1v1h-1zM537,331h1v1h-1zM534,332h1v1h-1zM537,332h1v1h-1zM534,333h1v1h-1zM537,333h1v1h-1zM534,334h1v1h-1zM537,334h1v1h-1zM534,335h3v1h-3z" fill="#fff"/>
<path d="M540,330h2v1h-2zM539,331h1v1h-1zM542,331h1v1h-1zM539,332h1v1h-1zM542,332h1v1h-1zM539,333h4v1h-4zM539,334h1v1h-1zM542,334h1v1h-1zM539,335h1v1h-1zM542,335h1v1h-1z" fill="#fff"/>
<path d="M545,330h2v1h-2zM544,331h1v1h-1zM547,331h1v1h-1zM544,332h1v1h-1zM547,332h1v1h-1zM544,333h1v1h-1zM547,333h1v1h-1zM544,334h1v1h-1zM546,334h1v1h-1zM545,335h1v1h-1zM547,335h2v1h-2z" fill="#fff"/>
<path d="M550,332h4v1h-4zM550,333h1v1h-1zM552,333h1v1h-1zM554,333h1v1h-1zM550,334h1v1h-1zM552,334h1v1h-1zM554,334h1v1h-1zM550,335h1v1h-1zM552,335h1v1h-1zM554,335h1v1h-1z" fill="#fff"/>
<path d="M556,332h1v1h-1zM559,332h1v1h-1zM557,333h2v1h-2zM557,334h2v1h-2zM556,335h1v1h-1zM559,335h1v1h-1z" fill="#fff"/>
<g transform="translate(549.5,343.8) rotate(-45)"><path d="M-8.5,0 L-6,-1.2 L-6,1.2 Z" fill="#000" stroke="#000" stroke-width="1"/><path d="M-6,-1.5 L-3,-2.5 L-3,2.5 L-6,1.5 Z" fill="#fff" stroke="#000" stroke-width="0.8"/><rect x="-3" y="-2.5" width="6" height="5" fill="#f0e000" stroke="#000" stroke-width="0.8"/><rect x="-3" y="0" width="6" height="2.5" fill="#d8a000"/><rect x="3" y="-2.5" width="2" height="5" fill="#909090" stroke="#000" stroke-width="0.6"/><rect x="5" y="-2.5" width="3" height="5" fill="#ff1010" stroke="#000" stroke-width="0.8"/></g>
<path d="M533,351.5 H535.5 V357.5 H542.5 V351.5 H549.5 V357.5 H556.5 V351.5 H561" fill="none" stroke="#000" stroke-width="1"/>
<path d="M533,355 l4,-4.5 l6,6.5 l8,-6.5 l6,6 l3,0" fill="none" stroke="#ff0000" stroke-width="1.5"/>
<path d="M532,341 l3,3 l-3,3 Z" fill="#ff0000"/>
<rect x="503.5" y="363.5" width="90" height="33" fill="#fff" stroke="#7a1a82" stroke-width="1" />
<rect x="501.5" y="361.5" width="90" height="33" fill="#fff" stroke="#7a1a82" stroke-width="1" />
<text x="512.5" y="374.8" font-size="13" fill="#000" stroke="#000" stroke-width="0.2" font-family="Liberation Sans, sans-serif" textLength="56" lengthAdjust="spacingAndGlyphs" >Digital U32</text>
<text x="503.5" y="389.5" font-size="13" fill="#000" stroke="#000" stroke-width="0.2" font-family="Liberation Sans, sans-serif" textLength="73" lengthAdjust="spacingAndGlyphs" >1Chan 1Samp</text>
<path d="M582.5,376 h7 l-3.5,3.5 Z" fill="#800080"/>
<rect x="563" y="330" width="221" height="1" fill="url(#taskA)"/>
<rect x="563" y="331" width="221" height="1" fill="url(#taskB)"/>
<rect x="563" y="355" width="221" height="3" fill="#a09c00"/>
<rect x="563" y="356" width="221" height="1" fill="url(#errh)"/>
<rect x="784.5" y="327.5" width="8" height="8" fill="#800080" stroke="#000" stroke-width="1" />
<rect x="784.5" y="352.5" width="8" height="8" fill="#858008" stroke="#000" stroke-width="1" />
<rect x="793" y="330" width="15" height="1" fill="url(#taskA)"/>
<rect x="793" y="331" width="15" height="1" fill="url(#taskB)"/>
<rect x="793" y="355" width="15" height="3" fill="#a09c00"/>
<rect x="793" y="356" width="15" height="1" fill="url(#errh)"/>
<rect x="808.5" y="328.5" width="31" height="31" fill="#fff" stroke="#000" stroke-width="1" />
<rect x="809" y="329" width="30" height="8" fill="#a00a0a" />
<path d="M811,330h3v1h-3zM811,331h1v1h-1zM814,331h1v1h-1zM811,332h1v1h-1zM814,332h1v1h-1zM811,333h1v1h-1zM814,333h1v1h-1zM811,334h1v1h-1zM814,334h1v1h-1zM811,335h3v1h-3z" fill="#fff"/>
<path d="M817,330h2v1h-2zM816,331h1v1h-1zM819,331h1v1h-1zM816,332h1v1h-1zM819,332h1v1h-1zM816,333h4v1h-4zM816,334h1v1h-1zM819,334h1v1h-1zM816,335h1v1h-1zM819,335h1v1h-1z" fill="#fff"/>
<path d="M822,330h2v1h-2zM821,331h1v1h-1zM824,331h1v1h-1zM821,332h1v1h-1zM824,332h1v1h-1zM821,333h1v1h-1zM824,333h1v1h-1zM821,334h1v1h-1zM823,334h1v1h-1zM822,335h1v1h-1zM824,335h2v1h-2z" fill="#fff"/>
<path d="M827,332h4v1h-4zM827,333h1v1h-1zM829,333h1v1h-1zM831,333h1v1h-1zM827,334h1v1h-1zM829,334h1v1h-1zM831,334h1v1h-1zM827,335h1v1h-1zM829,335h1v1h-1zM831,335h1v1h-1z" fill="#fff"/>
<path d="M833,332h1v1h-1zM836,332h1v1h-1zM834,333h2v1h-2zM834,334h2v1h-2zM833,335h1v1h-1zM836,335h1v1h-1z" fill="#fff"/>
<path d="M812,347h3v1h-3zM812,348h1v1h-1zM812,349h1v1h-1zM812,350h1v1h-1zM812,351h1v1h-1zM810,352h3v1h-3zM812,353h1v1h-1zM812,354h1v1h-1zM812,355h1v1h-1zM812,356h1v1h-1zM812,357h3v1h-3z" fill="#000"/>
<path d="M817,347h2v1h-2zM823,347h2v1h-2zM816,348h1v1h-1zM819,348h1v1h-1zM822,348h1v1h-1zM825,348h1v1h-1zM820,349h2v1h-2zM826,349h1v1h-1z" fill="#00a000"/>
<path d="M817,351h3v1h-3zM821,351h3v1h-3zM825,351h2v1h-2zM817,352h1v1h-1zM819,352h1v1h-1zM821,352h1v1h-1zM823,352h1v1h-1zM825,352h1v1h-1zM816,353h2v1h-2zM819,353h3v1h-3zM823,353h3v1h-3z" fill="#0000b0"/>
<path d="M818,355h1v1h-1zM822,355h1v1h-1zM826,355h1v1h-1zM817,356h1v1h-1zM819,356h1v1h-1zM821,356h1v1h-1zM823,356h1v1h-1zM825,356h1v1h-1zM816,357h1v1h-1zM820,357h1v1h-1zM824,357h1v1h-1z" fill="#ff0000"/>
<g transform="translate(832,342.5) rotate(-45) scale(1.15)"><rect x="-6" y="-2.7" width="5" height="5.4" fill="#ff0000" stroke="#000" stroke-width="0.9"/><rect x="-1" y="-2.7" width="2" height="5.4" fill="#d0d0d0" stroke="#000" stroke-width="0.6"/><rect x="1" y="-2.7" width="6" height="5.4" fill="#f8f000" stroke="#000" stroke-width="0.9"/><rect x="1.5" y="0.5" width="5" height="1.8" fill="#d09000"/></g>
<rect x="840" y="355" width="12" height="3" fill="#a09c00"/>
<rect x="840" y="356" width="12" height="1" fill="url(#errh)"/>
<rect x="852.5" y="328.5" width="31" height="31" fill="#fff" stroke="#000" stroke-width="1" />
<path d="M860.5,351.5 L858.5,357.5 L869,351.5 L876,351.5 Q881.5,351 881.5,344 L881.5,338 Q881.5,330.5 874,330.5 L862,330.5 Q854.5,330.5 854.5,338 L854.5,344 Q854.5,351 860.5,351.5 Z" fill="#fff" stroke="#000" stroke-width="1"/>
<path d="M857,334h4v1h-4zM857,335h1v1h-1zM857,336h3v1h-3zM857,337h1v1h-1zM857,338h1v1h-1zM857,339h4v1h-4z" fill="#000"/>
<path d="M861,336h1v1h-1zM863,336h2v1h-2zM861,337h2v1h-2zM861,338h1v1h-1zM861,339h1v1h-1z" fill="#000"/>
<path d="M866,336h1v1h-1zM868,336h2v1h-2zM866,337h2v1h-2zM866,338h1v1h-1zM866,339h1v1h-1z" fill="#000"/>
<path d="M871,336h2v1h-2zM870,337h1v1h-1zM873,337h1v1h-1zM870,338h1v1h-1zM873,338h1v1h-1zM871,339h2v1h-2z" fill="#000"/>
<path d="M875,336h1v1h-1zM877,336h2v1h-2zM875,337h2v1h-2zM875,338h1v1h-1zM875,339h1v1h-1z" fill="#000"/>
<path d="M864,341h4v1h-4zM863,342h2v1h-2zM867,342h2v1h-2zM867,343h2v1h-2zM866,344h2v1h-2zM865,345h2v1h-2zM865,346h2v1h-2zM865,348h2v1h-2zM865,349h2v1h-2z" fill="#000"/>
<path d="M870,341h2v1h-2zM870,342h2v1h-2zM870,343h2v1h-2zM870,344h2v1h-2zM870,345h2v1h-2zM870,346h2v1h-2zM870,348h2v1h-2zM870,349h2v1h-2z" fill="#000"/>
<rect x="597" y="356" width="3" height="158" fill="#a09c00"/>
<rect x="598" y="356" width="1" height="158" fill="url(#errv)"/>
<rect x="597" y="513" width="11" height="3" fill="#a09c00"/>
<rect x="597" y="514" width="11" height="1" fill="url(#errh)"/>
<circle cx="598.5" cy="356.5" r="2.8" fill="#000" stroke="#d8d800" stroke-width="0.6"/><path d="M597.3,357.7 L599.7,355.3" stroke="#ffff00" stroke-width="1"/>
<rect x="608.5" y="505.5" width="54" height="17" fill="#fff" stroke="#000" stroke-width="1" />
<rect x="609" y="506" width="15" height="16" fill="#fffacd" />
<rect x="624" y="506" width="1" height="16" fill="#000"/>
<path d="M608,514.3 h8" stroke="#000" stroke-width="2.6"/><path d="M614.5,510.8 L619.5,514.3 L614.5,517.8 Z" fill="#000"/>
<text x="628.3" y="518.5" font-size="13" fill="#008020" stroke="#008020" stroke-width="0.2" font-family="Liberation Sans, sans-serif" textLength="30.5" lengthAdjust="spacingAndGlyphs" >status</text>
<rect x="698" y="222" width="3" height="3" fill="#fff" />
<rect x="517" y="329" width="3" height="4" fill="#fff" />
<rect x="698" y="329" width="3" height="4" fill="#fff" />
<rect x="698" y="354" width="3" height="5" fill="#fff" />
<path d="M518.5,223.5 L518.5,344.5 L531.5,344.5" fill="none" stroke="#0000ff" stroke-width="1"/>
<path d="M531,341 l3,3 l-3,3 Z" fill="#ff0000"/>
<path d="M661,177h1v1h-1zM663,177h1v1h-1zM665,177h1v1h-1zM667,177h1v1h-1zM669,177h1v1h-1zM671,177h1v1h-1zM673,177h1v1h-1zM675,177h1v1h-1zM677,177h1v1h-1zM679,177h1v1h-1zM681,177h1v1h-1zM683,177h1v1h-1zM685,177h1v1h-1zM687,177h1v1h-1zM689,177h1v1h-1zM691,177h1v1h-1zM693,177h1v1h-1zM695,177h1v1h-1zM697,177h1v1h-1zM699,177h1v1h-1zM699,177h1v1h-1zM699,179h1v1h-1zM699,181h1v1h-1zM699,183h1v1h-1zM699,185h1v1h-1zM699,187h1v1h-1zM699,189h1v1h-1zM699,191h1v1h-1zM699,193h1v1h-1zM699,195h1v1h-1zM699,197h1v1h-1zM699,199h1v1h-1zM699,201h1v1h-1zM699,203h1v1h-1zM699,205h1v1h-1zM699,207h1v1h-1zM699,209h1v1h-1zM699,211h1v1h-1zM699,213h1v1h-1zM699,215h1v1h-1zM699,217h1v1h-1zM699,219h1v1h-1zM699,221h1v1h-1zM699,223h1v1h-1zM699,225h1v1h-1zM699,227h1v1h-1zM699,229h1v1h-1zM699,231h1v1h-1zM699,233h1v1h-1zM699,235h1v1h-1zM699,237h1v1h-1zM699,239h1v1h-1zM699,241h1v1h-1zM699,243h1v1h-1zM699,245h1v1h-1zM699,247h1v1h-1zM699,249h1v1h-1zM699,251h1v1h-1zM699,253h1v1h-1zM699,255h1v1h-1zM699,257h1v1h-1zM699,259h1v1h-1zM699,261h1v1h-1zM699,263h1v1h-1zM699,265h1v1h-1zM699,267h1v1h-1zM699,269h1v1h-1zM699,271h1v1h-1zM699,273h1v1h-1zM699,275h1v1h-1zM699,277h1v1h-1zM699,279h1v1h-1zM699,281h1v1h-1zM699,283h1v1h-1zM699,285h1v1h-1zM699,287h1v1h-1zM699,289h1v1h-1zM699,291h1v1h-1zM699,293h1v1h-1zM699,295h1v1h-1zM699,297h1v1h-1zM699,299h1v1h-1zM699,301h1v1h-1zM699,303h1v1h-1zM699,305h1v1h-1zM699,307h1v1h-1zM699,309h1v1h-1zM699,311h1v1h-1zM699,313h1v1h-1zM699,315h1v1h-1zM699,317h1v1h-1zM699,319h1v1h-1zM699,321h1v1h-1zM699,323h1v1h-1zM699,325h1v1h-1zM699,327h1v1h-1zM699,329h1v1h-1zM699,331h1v1h-1zM699,333h1v1h-1zM699,335h1v1h-1zM699,337h1v1h-1zM699,339h1v1h-1zM699,341h1v1h-1zM699,343h1v1h-1zM699,345h1v1h-1zM699,347h1v1h-1zM699,349h1v1h-1zM699,351h1v1h-1zM699,353h1v1h-1zM699,355h1v1h-1zM699,357h1v1h-1zM699,359h1v1h-1zM699,361h1v1h-1zM699,363h1v1h-1zM699,365h1v1h-1zM699,367h1v1h-1zM699,369h1v1h-1zM699,371h1v1h-1zM699,373h1v1h-1zM699,375h1v1h-1zM699,377h1v1h-1zM699,379h1v1h-1zM699,381h1v1h-1zM699,383h1v1h-1zM699,385h1v1h-1zM699,387h1v1h-1zM699,389h1v1h-1zM699,391h1v1h-1zM699,393h1v1h-1zM699,395h1v1h-1zM699,397h1v1h-1zM699,399h1v1h-1zM699,401h1v1h-1zM699,403h1v1h-1zM699,405h1v1h-1zM699,407h1v1h-1zM699,409h1v1h-1zM699,411h1v1h-1zM699,413h1v1h-1zM699,415h1v1h-1zM699,417h1v1h-1zM699,419h1v1h-1zM699,421h1v1h-1zM699,423h1v1h-1zM699,425h1v1h-1zM699,427h1v1h-1zM699,429h1v1h-1zM699,431h1v1h-1zM699,433h1v1h-1zM699,435h1v1h-1zM699,437h1v1h-1zM699,439h1v1h-1zM699,441h1v1h-1zM699,443h1v1h-1zM699,445h1v1h-1zM699,447h1v1h-1zM699,449h1v1h-1zM699,451h1v1h-1zM699,453h1v1h-1zM699,455h1v1h-1zM699,457h1v1h-1zM699,459h1v1h-1zM699,461h1v1h-1zM699,463h1v1h-1zM699,465h1v1h-1zM699,467h1v1h-1zM699,469h1v1h-1zM699,471h1v1h-1zM699,473h1v1h-1zM699,475h1v1h-1zM699,477h1v1h-1zM699,479h1v1h-1zM699,481h1v1h-1zM699,483h1v1h-1zM699,485h1v1h-1zM699,487h1v1h-1zM699,489h1v1h-1zM699,491h1v1h-1zM699,493h1v1h-1zM699,495h1v1h-1zM699,497h1v1h-1zM699,499h1v1h-1zM699,501h1v1h-1zM699,503h1v1h-1zM699,505h1v1h-1zM699,507h1v1h-1zM699,509h1v1h-1zM699,511h1v1h-1zM699,513h1v1h-1zM699,515h1v1h-1zM699,517h1v1h-1zM699,519h1v1h-1zM699,521h1v1h-1zM699,523h1v1h-1zM699,525h1v1h-1zM699,527h1v1h-1zM699,529h1v1h-1zM699,531h1v1h-1zM699,533h1v1h-1zM699,535h1v1h-1zM699,537h1v1h-1zM699,539h1v1h-1zM699,541h1v1h-1zM699,543h1v1h-1zM699,545h1v1h-1zM699,547h1v1h-1zM699,549h1v1h-1zM699,551h1v1h-1zM699,553h1v1h-1zM700,554h1v1h-1zM702,554h1v1h-1zM704,554h1v1h-1z" fill="#009000"/>
<path d="M663,513h1v1h-1zM665,513h1v1h-1zM667,513h1v1h-1zM669,513h1v1h-1zM671,513h1v1h-1zM671,513h1v1h-1zM671,515h1v1h-1zM671,517h1v1h-1zM671,519h1v1h-1zM671,521h1v1h-1zM671,523h1v1h-1zM671,525h1v1h-1zM671,527h1v1h-1zM671,529h1v1h-1zM671,531h1v1h-1zM671,533h1v1h-1zM671,535h1v1h-1zM671,537h1v1h-1zM671,539h1v1h-1zM671,541h1v1h-1zM671,543h1v1h-1zM671,545h1v1h-1zM671,547h1v1h-1zM671,549h1v1h-1zM671,551h1v1h-1zM671,553h1v1h-1zM671,555h1v1h-1zM671,557h1v1h-1zM671,559h1v1h-1zM671,561h1v1h-1zM672,562h1v1h-1zM674,562h1v1h-1zM676,562h1v1h-1zM678,562h1v1h-1zM680,562h1v1h-1zM682,562h1v1h-1zM684,562h1v1h-1zM686,562h1v1h-1zM688,562h1v1h-1zM690,562h1v1h-1zM692,562h1v1h-1zM694,562h1v1h-1zM696,562h1v1h-1zM698,562h1v1h-1zM700,562h1v1h-1zM702,562h1v1h-1zM704,562h1v1h-1z" fill="#009000"/>
<path d="M646,570h1v1h-1zM648,570h1v1h-1zM650,570h1v1h-1zM652,570h1v1h-1zM654,570h1v1h-1zM656,570h1v1h-1zM658,570h1v1h-1zM660,570h1v1h-1zM662,570h1v1h-1zM664,570h1v1h-1zM666,570h1v1h-1zM668,570h1v1h-1zM670,570h1v1h-1zM672,570h1v1h-1zM674,570h1v1h-1zM676,570h1v1h-1zM678,570h1v1h-1zM680,570h1v1h-1zM682,570h1v1h-1zM684,570h1v1h-1zM686,570h1v1h-1zM688,570h1v1h-1zM690,570h1v1h-1zM692,570h1v1h-1zM694,570h1v1h-1zM696,570h1v1h-1zM698,570h1v1h-1zM700,570h1v1h-1zM702,570h1v1h-1zM704,570h1v1h-1z" fill="#009000"/>
<path d="M730,562h1v1h-1zM732,562h1v1h-1zM734,562h1v1h-1zM736,562h1v1h-1zM737,563h1v1h-1zM737,565h1v1h-1zM738,566h1v1h-1zM740,566h1v1h-1zM742,566h1v1h-1z" fill="#009000"/>
<text x="359" y="424.6" font-size="13" fill="#000" stroke="#000" stroke-width="0.2" font-family="Liberation Sans, sans-serif" textLength="27" lengthAdjust="spacingAndGlyphs" >delay</text>
<rect x="358.0" y="430.0" width="30" height="14" fill="#fff" stroke="#0000ff" stroke-width="2" />
<rect x="360.5" y="432.5" width="26" height="9" fill="#fff" stroke="#0000ff" stroke-width="1" />
<rect x="379" y="433" width="7" height="8" fill="#a8a8ff" />
<path d="M365,434h2v1h-2zM368,434h2v1h-2zM365,435h2v1h-2zM368,435h2v1h-2zM365,436h2v1h-2zM368,436h2v1h-2zM365,437h2v1h-2zM368,437h2v1h-2zM365,438h2v1h-2zM368,438h2v1h-2zM366,439h3v1h-3z" fill="#0000ff"/>
<path d="M371,434h4v1h-4zM374,435h2v1h-2zM372,436h3v1h-3zM374,437h2v1h-2zM374,438h2v1h-2zM371,439h4v1h-4z" fill="#0000ff"/>
<path d="M378,434h3v1h-3zM377,435h1v1h-1zM380,435h2v1h-2zM380,436h2v1h-2zM379,437h2v1h-2zM378,438h2v1h-2zM377,439h5v1h-5z" fill="#0000ff"/>
<path d="M384,434 L387.5,437.5 L384,441 Z" fill="#000"/>
<rect x="389" y="437" width="20" height="1" fill="#0000ff"/>
<rect x="409.5" y="421.5" width="31" height="31" fill="#fffbd0" stroke="#000" stroke-width="1" />
<path d="M419,427h12v1h-12zM419,428h12v1h-12zM419,429h12v1h-12zM419,430h12v1h-12zM419,431h12v1h-12zM418,432h14v1h-14zM417,433h2v1h-2zM431,433h2v1h-2zM417,434h2v1h-2zM425,434h1v1h-1zM431,434h2v1h-2zM417,435h2v1h-2zM425,435h1v1h-1zM428,435h1v1h-1zM431,435h2v1h-2zM417,436h2v1h-2zM425,436h1v1h-1zM427,436h1v1h-1zM431,436h2v1h-2zM417,437h2v1h-2zM420,437h1v1h-1zM425,437h2v1h-2zM429,437h1v1h-1zM431,437h3v1h-3zM417,438h2v1h-2zM425,438h1v1h-1zM431,438h3v1h-3zM417,439h2v1h-2zM425,439h1v1h-1zM431,439h2v1h-2zM417,440h2v1h-2zM431,440h2v1h-2zM417,441h2v1h-2zM425,441h1v1h-1zM431,441h2v1h-2zM418,442h14v1h-14zM419,443h12v1h-12zM419,444h12v1h-12zM419,445h12v1h-12zM419,446h12v1h-12zM419,447h12v1h-12z" fill="#000"/>
<rect x="279.0" y="563.0" width="14" height="14" fill="#fffacd" stroke="#0000ff" stroke-width="2" />
<rect x="285" y="567" width="2" height="8" fill="#0000ff"/><rect x="285" y="565" width="2" height="1" fill="#0000ff"/>
<text x="615" y="558" font-size="13" fill="#000" stroke="#000" stroke-width="0.2" font-family="Liberation Sans, sans-serif" textLength="22" lengthAdjust="spacingAndGlyphs" >stop</text>
<rect x="615.0" y="563.0" width="30" height="14" fill="#fff" stroke="#008000" stroke-width="2" />
<rect x="617.5" y="565.5" width="26" height="9" fill="#fff" stroke="#008000" stroke-width="1" />
<rect x="636" y="566" width="7" height="8" fill="#a8d4a8" />
<rect x="643" y="564" width="1" height="12" fill="#60b060" />
<path d="M624,567h6v1h-6zM626,568h2v1h-2zM626,569h2v1h-2zM626,570h2v1h-2zM626,571h2v1h-2zM626,572h2v1h-2z" fill="#008000"/>
<path d="M631,567h5v1h-5zM631,568h2v1h-2zM631,569h4v1h-4zM631,570h2v1h-2zM631,571h2v1h-2zM631,572h2v1h-2z" fill="#008000"/>
<path d="M641,567 L644.5,569.5 L641,572 Z" fill="#000"/>
<rect x="705.5" y="550.5" width="23" height="24" fill="#fffacd" stroke="#000" stroke-width="1" />
<rect x="717" y="550" width="1" height="25" fill="#000"/>
<rect x="705" y="558" width="12" height="1" fill="#000"/>
<rect x="705" y="566" width="12" height="1" fill="#000"/>
<path d="M720,560h1v1h-1zM725,560h1v1h-1zM720,561h1v1h-1zM725,561h1v1h-1zM721,562h1v1h-1zM724,562h1v1h-1zM721,563h1v1h-1zM724,563h1v1h-1zM722,564h2v1h-2zM722,565h2v1h-2z" fill="#000"/>
<rect x="742.5" y="558.5" width="15" height="15" fill="#fffacd" stroke="#008000" stroke-width="1" />
<path d="M747.5,560.5 L752.5,560.5 L755.5,563.5 L755.5,568.5 L752.5,571.5 L747.5,571.5 L744.5,568.5 L744.5,563.5 Z" fill="#fff" stroke="#000" stroke-width="1"/>
<path d="M748,562 L752,562 L754,564 L754,568 L752,570 L748,570 L746,568 L746,564 Z" fill="#ff0000"/>
</svg></body></html>
